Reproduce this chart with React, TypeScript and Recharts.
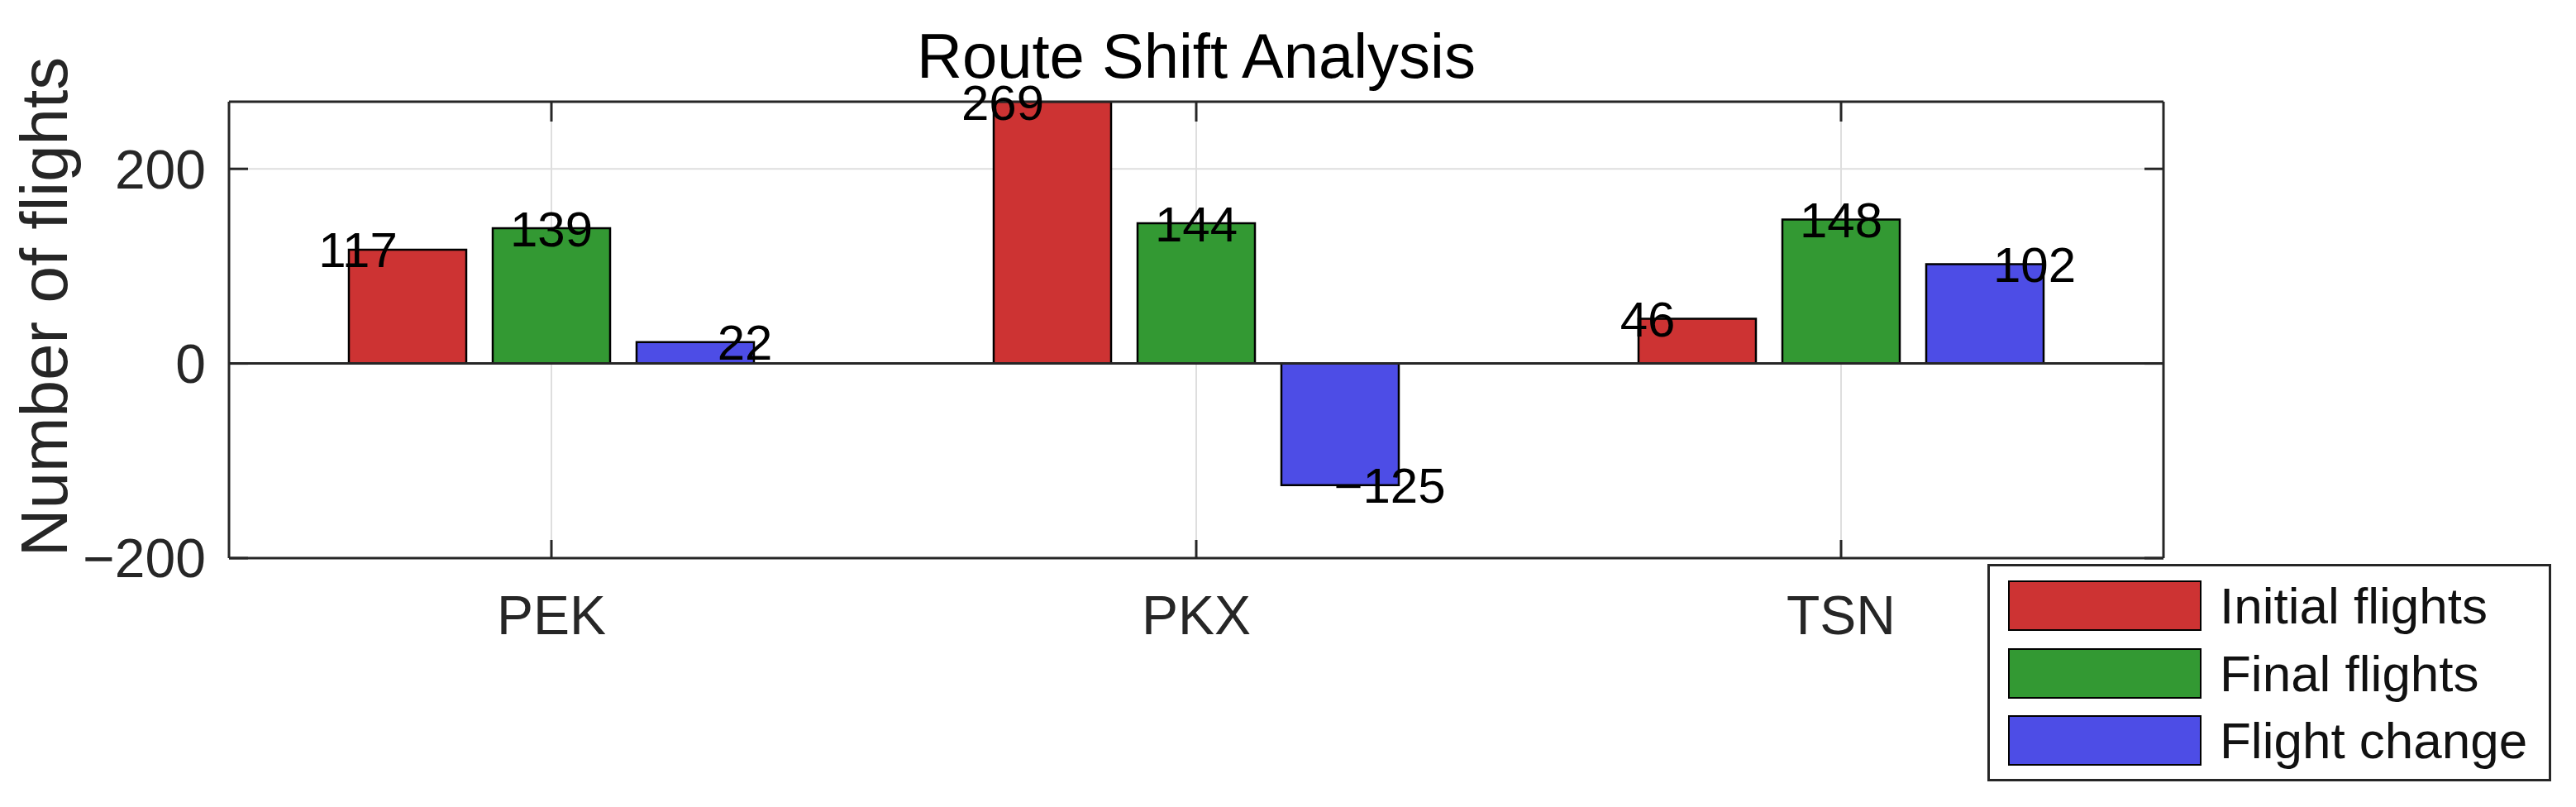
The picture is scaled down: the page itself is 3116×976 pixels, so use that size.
import { BarChart, Bar, XAxis, YAxis, CartesianGrid, Legend, LabelList, ReferenceLine } from 'recharts';

const categories = ['PEK', 'PKX', 'TSN'];
const initialFlights = [117, 269, 46];
const finalFlights = [139, 144, 148];
const flightChange = [22, -125, 102];
const yTicks = [-200, 0, 200];
const yLimits: [number, number] = [-200, 269];

const series = [
  { key: 'initial', name: 'Initial flights', color: '#cd3333', shift: -60 },
  { key: 'final', name: 'Final flights', color: '#339933', shift: 0 },
  { key: 'change', name: 'Flight change', color: '#4d4de6', shift: 60 },
];

const data = categories.map((name, i) => ({
  name,
  initial: initialFlights[i],
  final: finalFlights[i],
  change: flightChange[i],
}));

const FONT = '"Liberation Sans", Arial, Helvetica, sans-serif';
const AXIS = '#262626';

const fmt = (v: number) => (v < 0 ? `\u2212${Math.abs(v)}` : `${v}`);

// value labels sit beside the bar, a bit off the bar centre (like text(x±0.3,...) in matlab)
const valueLabel = (shift: number) => (props: any) => {
  const { x, y, width, height, value } = props;
  const v = Number(value);
  const top = Math.min(y, y + height);
  const bottom = Math.max(y, y + height);
  const vy = v >= 0 ? top : bottom;
  return (
    <text x={x + width / 2 + shift} y={vy} dy="0.36em" textAnchor="middle" fontSize={60} fill="#000" fontFamily={FONT}>
      {fmt(v)}
    </text>
  );
};

const YLabel = () => (
  <text x={81} y={371} transform="rotate(-90 81 371)" textAnchor="middle" fontSize={80} fill={AXIS} fontFamily={FONT}>
    Number of flights
  </text>
);

const renderLegend = () => (
  <div
    style={{
      width: 682,
      height: 263,
      boxSizing: 'border-box',
      border: `3px solid ${AXIS}`,
      background: '#fff',
      position: 'relative',
      fontFamily: FONT,
    }}
  >
    {series.map((s, i) => (
      <div key={s.key} style={{ position: 'absolute', left: 22, top: 17 + i * 81.5, height: 61, display: 'flex', alignItems: 'center' }}>
        <div style={{ width: 234, height: 61, boxSizing: 'border-box', background: s.color, border: '2.5px solid #000' }} />
        <span style={{ marginLeft: 22, fontSize: 62, lineHeight: '61px', color: '#111', whiteSpace: 'nowrap' }}>{s.name}</span>
      </div>
    ))}
  </div>
);

export default function App() {
  return (
    <div style={{ position: 'absolute', left: 0, top: 0, width: 3116, height: 976, background: '#fff', fontFamily: FONT }}>
      <div style={{ position: 'absolute', left: 0, top: 30, width: 2894, textAlign: 'center', fontSize: 76, lineHeight: '76px', color: '#000' }}>
        Route Shift Analysis
      </div>
      <BarChart
        width={3116}
        height={976}
        data={data}
        margin={{ top: 113, right: 479, bottom: 231, left: 127 }}
        barSize={142}
        barGap={32}
      >
        <CartesianGrid stroke="#dedede" strokeWidth={2} />
        <XAxis
          dataKey="name"
          height={70}
          interval={0}
          tickSize={-22}
          tickMargin={67}
          axisLine={{ stroke: AXIS, strokeWidth: 3 }}
          tickLine={{ stroke: AXIS, strokeWidth: 3 }}
          tick={{ fontSize: 66, fill: AXIS, fontFamily: FONT }}
        />
        <XAxis
          xAxisId="top"
          orientation="top"
          dataKey="name"
          height={10}
          interval={0}
          tickSize={-24}
          tickFormatter={() => ''}
          axisLine={{ stroke: AXIS, strokeWidth: 3 }}
          tickLine={{ stroke: AXIS, strokeWidth: 3 }}
        />
        <YAxis
          type="number"
          domain={yLimits}
          ticks={yTicks}
          allowDataOverflow
          width={150}
          tickSize={-23}
          tickMargin={51}
          tickFormatter={fmt}
          axisLine={{ stroke: AXIS, strokeWidth: 3 }}
          tickLine={{ stroke: AXIS, strokeWidth: 3 }}
          tick={{ fontSize: 66, fill: AXIS, fontFamily: FONT }}
          label={<YLabel />}
        />
        <YAxis
          yAxisId="right"
          orientation="right"
          type="number"
          domain={yLimits}
          ticks={yTicks}
          allowDataOverflow
          width={20}
          tickSize={-23}
          tickFormatter={() => ''}
          axisLine={{ stroke: AXIS, strokeWidth: 3 }}
          tickLine={{ stroke: AXIS, strokeWidth: 3 }}
        />
        {series.map((s) => (
          <Bar key={s.key} dataKey={s.key} name={s.name} fill={s.color} stroke="#000" strokeWidth={2.5} isAnimationActive={false}>
            <LabelList dataKey={s.key} content={valueLabel(s.shift)} />
          </Bar>
        ))}
        <ReferenceLine y={0} stroke={AXIS} strokeWidth={3} />
        <Legend
          layout="horizontal"
          verticalAlign="middle"
          align="center"
          wrapperStyle={{ left: 2404, top: 682, width: 682, height: 263 }}
          content={renderLegend}
        />
      </BarChart>
    </div>
  );
}
